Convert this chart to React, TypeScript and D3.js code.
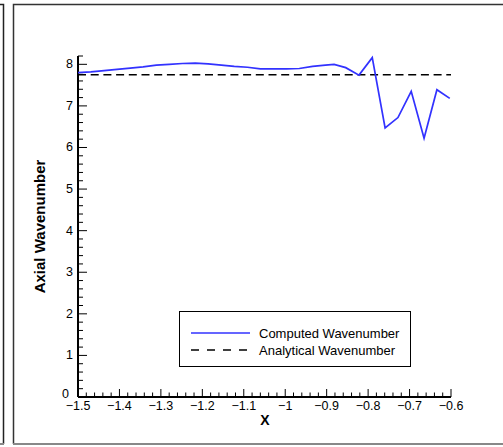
import React, {useEffect, useRef} from "react";
import * as d3 from "d3";

// computed wavenumber
const xs = [-1.5, -1.469, -1.437, -1.406, -1.374, -1.343, -1.311, -1.28, -1.248, -1.217,
    -1.186, -1.154, -1.123, -1.091, -1.06, -1.028, -0.997, -0.966, -0.934, -0.903,
    -0.882, -0.854, -0.822, -0.79, -0.759, -0.728, -0.696, -0.665, -0.634, -0.603]
const computed = [7.8, 7.82, 7.85, 7.88, 7.91, 7.94, 7.98, 8.0, 8.02, 8.03,
    8.01, 7.98, 7.95, 7.93, 7.89, 7.89, 7.89, 7.9, 7.95, 7.98,
    8.0, 7.92, 7.74, 8.16, 6.47, 6.72, 7.35, 6.22, 7.39, 7.18]
const analytical = 7.75

const xTicks = [-1.5, -1.4, -1.3, -1.2, -1.1, -1, -0.9, -0.8, -0.7, -0.6]
const yTicks = [0, 1, 2, 3, 4, 5, 6, 7, 8]
const legendLabels = ["Computed Wavenumber", "Analytical Wavenumber"]

const App = () => {
    const ref = useRef<SVGSVGElement>(null)

    useEffect(() => {
        const svg = d3.select(ref.current)
        svg.selectAll("*").remove()

        const font = "Arial, 'Liberation Sans', sans-serif"
        const x = d3.scaleLinear().domain([-1.5, -0.6]).range([78, 451])
        const y = d3.scaleLinear().domain([0, 8.2]).range([397, 56])

        // panel frames
        svg.append("path").attr("d", "M0,4.5H3.5V444").attr("fill", "none").attr("stroke", "#222").attr("stroke-width", 1.5)
        svg.append("path").attr("d", "M503,4.5H13.5V444").attr("fill", "none").attr("stroke", "#333").attr("stroke-width", 1.5)
        svg.append("line").attr("x1", 13).attr("x2", 503).attr("y1", 444).attr("y2", 444)
            .attr("stroke", "#888").attr("stroke-width", 2)
        svg.append("line").attr("x1", 0).attr("x2", 4).attr("y1", 444).attr("y2", 444)
            .attr("stroke", "#888").attr("stroke-width", 2)

        // ticks
        const g = svg.append("g")
        d3.range(0, 8.2001, 0.2).forEach(v => {
            const major = Math.abs(v - Math.round(v)) < 1e-6
            g.append("line").attr("x1", x(-1.5)).attr("x2", x(-1.5) + (major ? 9 : 5))
                .attr("y1", y(v)).attr("y2", y(v)).attr("stroke", "#000").attr("stroke-width", 1)
        })
        d3.range(-1.5, -0.5999, 0.02).forEach(v => {
            const major = Math.abs(v * 10 - Math.round(v * 10)) < 1e-6
            g.append("line").attr("y1", y(0)).attr("y2", y(0) - (major ? 8 : 4.5))
                .attr("x1", x(v)).attr("x2", x(v)).attr("stroke", "#000").attr("stroke-width", 1)
        })

        // axis lines
        g.append("line").attr("x1", x(-1.5)).attr("x2", x(-1.5)).attr("y1", y(0)).attr("y2", y(8.2))
            .attr("stroke", "#000").attr("stroke-width", 2)
        g.append("line").attr("x1", x(-1.5)).attr("x2", x(-0.6)).attr("y1", y(0)).attr("y2", y(0))
            .attr("stroke", "#000").attr("stroke-width", 2)

        g.selectAll(".yl").data(yTicks).enter().append("text")
            .attr("x", d => d === 0 ? 69 : 73).attr("y", d => d === 0 ? 398 : y(d) + 4)
            .attr("text-anchor", "end").attr("font-family", font).attr("font-size", 12.5)
            .text(d => d)
        g.selectAll(".xl").data(xTicks).enter().append("text")
            .attr("x", d => x(d)).attr("y", 410)
            .attr("text-anchor", "middle").attr("font-family", font).attr("font-size", 12.5)
            .text(d => d3.format("")(d))

        svg.append("text").attr("x", 265).attr("y", 425).attr("text-anchor", "middle")
            .attr("font-family", font).attr("font-weight", "bold").attr("font-size", 14).text("X")
        svg.append("text").attr("transform", `translate(45, ${(y(0) + y(8.2)) / 2}) rotate(-90)`)
            .attr("text-anchor", "middle").attr("font-family", font).attr("font-weight", "bold")
            .attr("font-size", 15).text("Axial Wavenumber")

        // series
        svg.append("line").attr("x1", x(-1.5)).attr("x2", x(-0.6))
            .attr("y1", y(analytical)).attr("y2", y(analytical))
            .attr("stroke", "#000").attr("stroke-width", 1.5).attr("stroke-dasharray", "8,4.7")

        const line = d3.line<number>().x((_, i) => x(xs[i])).y(d => y(d))
        svg.append("path").datum(computed).attr("d", line)
            .attr("fill", "none").attr("stroke", "#3232ff").attr("stroke-width", 1.7)

        // legend
        const lg = svg.append("g")
        lg.append("rect").attr("x", 179.5).attr("y", 311.5).attr("width", 231).attr("height", 55)
            .attr("fill", "#fff").attr("stroke", "#000").attr("stroke-width", 1)
        legendLabels.forEach((label, i) => {
            const ly = 333 + i * 17
            lg.append("line").attr("x1", 191).attr("x2", 250).attr("y1", ly).attr("y2", ly)
                .attr("stroke", i === 0 ? "#3232ff" : "#000").attr("stroke-width", 1.5)
                .attr("stroke-dasharray", i === 0 ? null : "8,8")
            lg.append("text").attr("x", 259).attr("y", ly + 4.5)
                .attr("font-family", font).attr("font-size", 13).text(label)
        })
    }, [])

    return <div style={{position: "absolute", left: 0, top: 0}}>
        <svg ref={ref} width={503} height={447} style={{display: "block", background: "#fff"}}/>
    </div>
}

export default App
